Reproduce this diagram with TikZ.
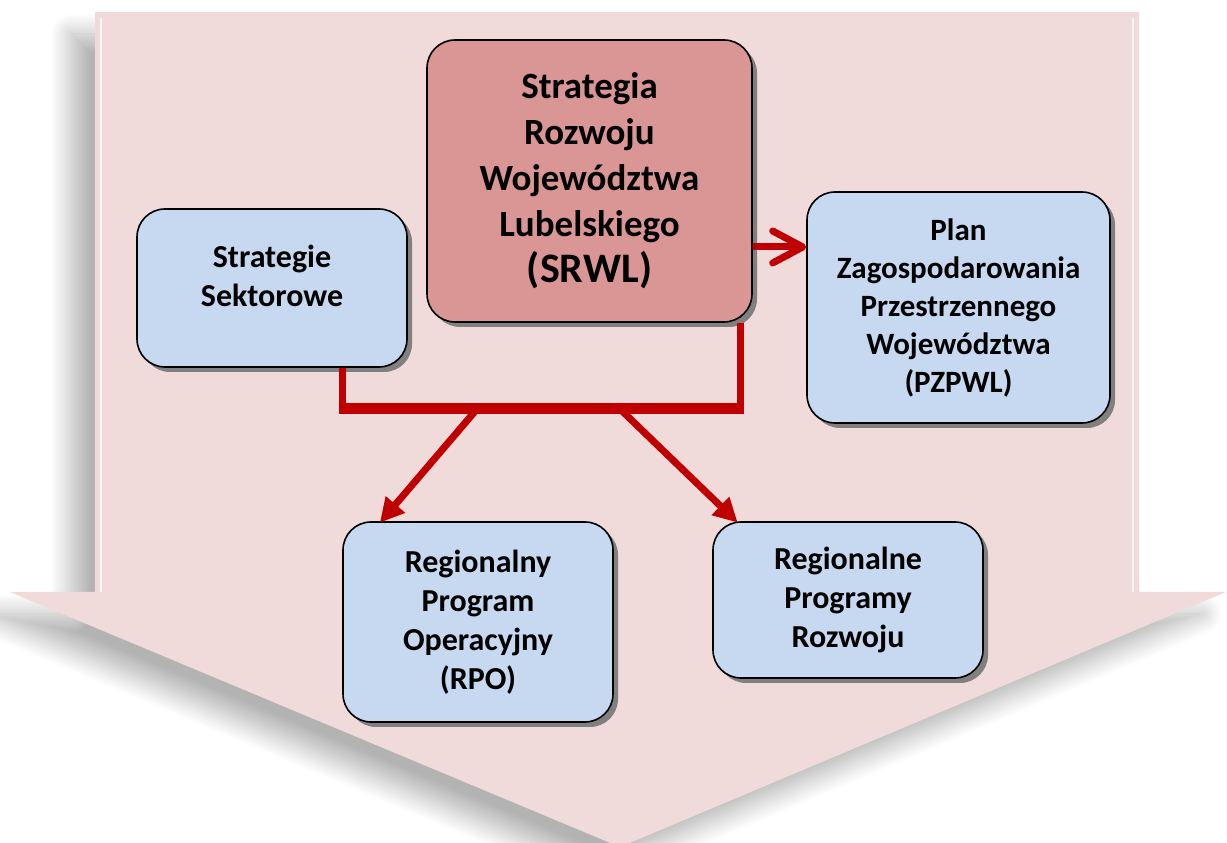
\documentclass[tikz,border=0pt]{standalone}
\usepackage{fontspec}
\setmainfont{Carlito}
\usetikzlibrary{arrows.meta,positioning,shadows,shadows.blur}

\definecolor{arrowpink}{HTML}{F0DBDA}
\definecolor{boxblue}{HTML}{C6D9F1}
\definecolor{boxrose}{HTML}{D99694}
\definecolor{linkred}{HTML}{C00000}

\begin{document}
\begin{tikzpicture}[
            x=1pt, y=1pt,
            font=\bfseries\fontsize{32}{39}\selectfont,
            box/.style={rectangle, rounded corners=28pt, draw=black, line width=1.6pt,
                                        fill=boxblue, align=center, inner sep=0pt,
                                        drop shadow={shadow xshift=5pt, shadow yshift=-5pt,
                                                     fill=black!50, opacity=1}},
            link/.style={draw=linkred, line width=7pt},
            flow/.style={link, -{Triangle[length=24pt, width=24pt]}, shorten >=-2pt},
            openflow/.style={link, -{Straight Barb[length=30pt, width=32pt, line cap=round, line join=round]}}
        ]
        \useasboundingbox (0,0) rectangle (1227,843);

        % Big arrow in the background
        \fill[arrowpink, blur shadow={shadow xshift=-24pt, shadow yshift=-22pt,
                    shadow blur radius=20pt, shadow blur steps=20, shadow opacity=30}]
            (95,831) -- (1139,831) -- (1139,251) -- (1226,251) -- (620,-4)
            -- (10,251) -- (95,251) -- cycle;
        \draw[white, line width=2pt, opacity=0.8] (101,251) -- (101,825);
        \draw[white, line width=2pt, opacity=0.8] (1133,251) -- (1133,825);

        % Strategy boxes
        \node[box, fill=boxrose, minimum width=325pt, minimum height=282pt,
                    font=\bfseries\fontsize{37}{46}\selectfont] (srwl) at (589.5,662)
            {Strategia\\Rozwoju\\Województwa\\Lubelskiego\\{\fontsize{42}{48}\selectfont (SRWL)}};
        \node[box, minimum width=270pt, minimum height=158pt] (sektor) at (272,555)
            {Strategie\\Sektorowe\\[-26pt]\strut};
        \node[box, minimum width=303pt, minimum height=231pt,
                    font=\bfseries\fontsize{31}{38}\selectfont] (pzpwl) at (958.5,535.5)
            {Plan\\Zagospodarowania\\Przestrzennego\\Województwa\\(PZPWL)};

        % Programmes
        \node[box, minimum width=270pt, minimum height=200pt] (rpo) at (478,221)
            {Regionalny\\Program\\Operacyjny\\(RPO)};
        \node[box, minimum width=270pt, minimum height=156pt] (rpr) at (848,243)
            {Regionalne\\Programy\\Rozwoju};

        % Bus below the strategies
        \coordinate (busL) at (342,434);
        \coordinate (busR) at (740,434);
        \coordinate (forkL) at (477,434);
        \coordinate (forkR) at (620,434);

        % Connections
        \draw[link] (sektor.south -| busL) -- (busL);
        \draw[link] (srwl.south -| busR) -- (busR);
        \draw[link, line width=11pt] ([xshift=-3.5pt]busL) -- ([xshift=3.5pt]busR);
        \draw[flow] (forkL) -- ([xshift=39pt]rpo.north west);
        \draw[flow] (forkR) -- ([xshift=24pt]rpr.north west);
        \draw[openflow] ([yshift=-66pt]srwl.east) -- ([yshift=-66pt]srwl.east -| pzpwl.west);

\end{tikzpicture}
\end{document}
